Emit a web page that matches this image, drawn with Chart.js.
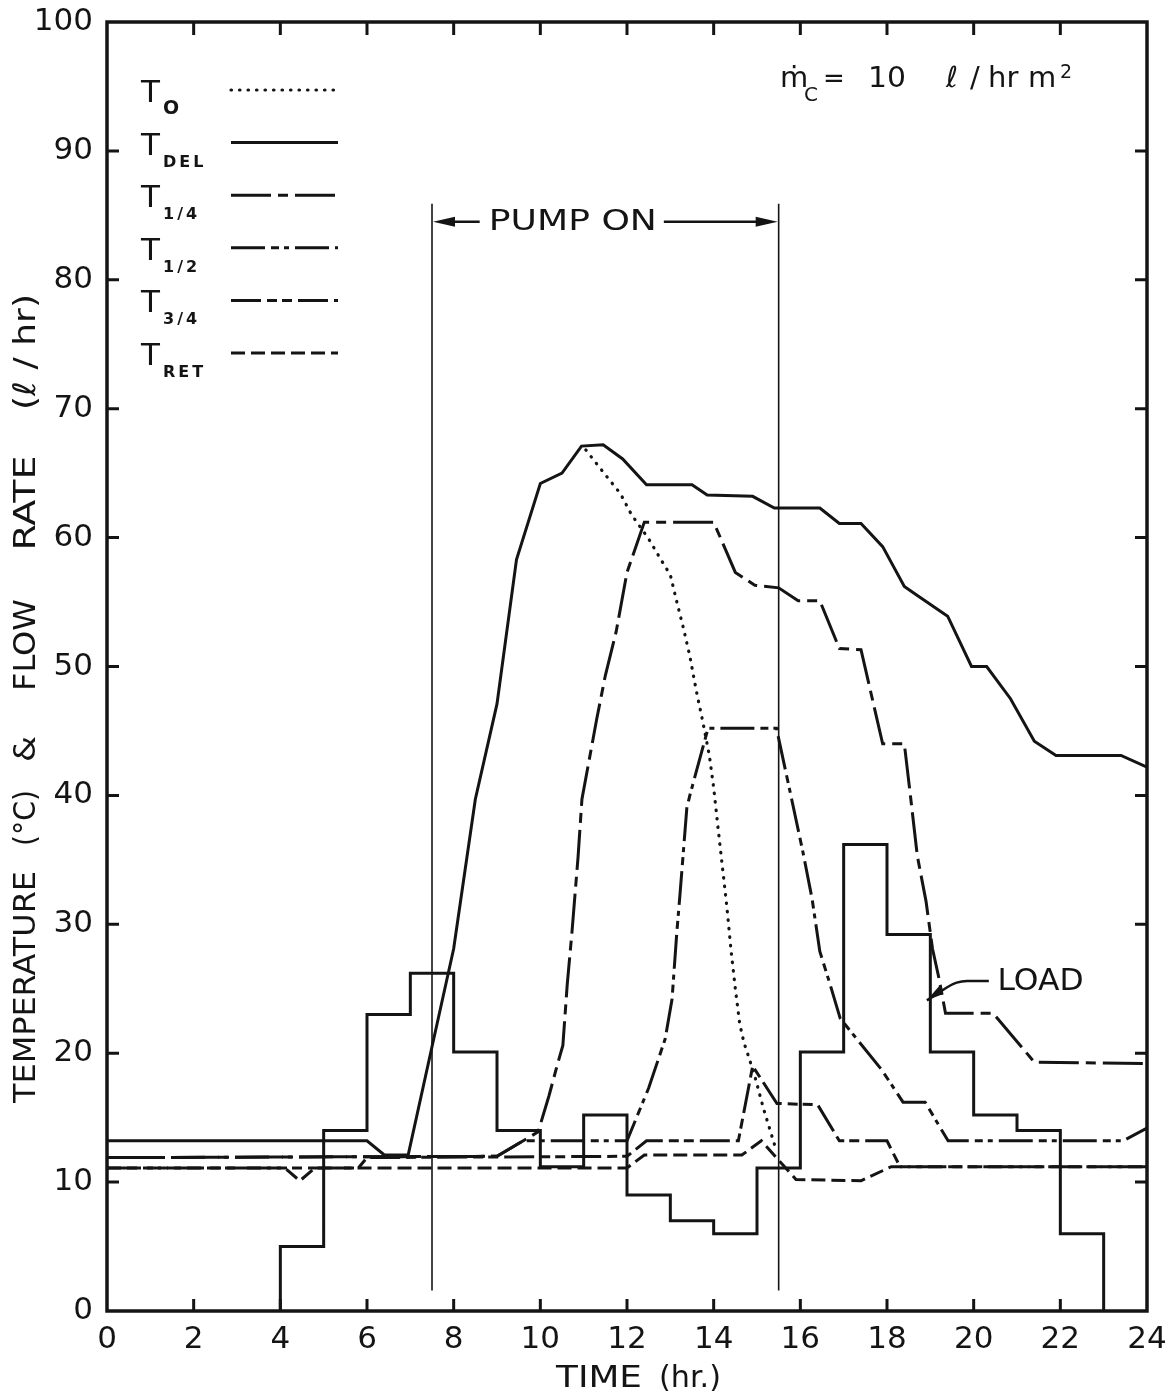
<!DOCTYPE html>
<html>
<head>
<meta charset="utf-8">
<script src="https://cdn.jsdelivr.net/npm/chart.js@4.4.1/dist/chart.umd.min.js"></script>
<style>
  html, body { margin: 0; padding: 0; background: #fff; }
  #wrap { width: 1167px; height: 1398px; }
</style>
</head>
<body>
<div id="wrap"><canvas id="chart" width="1167" height="1398"></canvas></div>
<script>
// ------------------------------------------------------------------
// Data (hours, degC or l/hr)
// ------------------------------------------------------------------

const loadHours  = [4, 4, 5, 6, 7, 8, 9, 10, 11, 12, 13, 14, 15, 16, 17, 18, 19, 20, 21, 22, 23];
const loadValues = [0, 5, 14, 23, 26.2, 20.1, 14.0, 11.2, 15.2, 9.0, 7.0, 6.0, 11.1, 20.1, 36.2, 29.2, 20.1, 15.2, 14.0, 6.0, 0];

const tOHours  = [11.05, 11.4, 11.85, 12.1, 12.5, 12.8, 13.0, 13.15, 13.3, 13.45, 13.6, 13.75, 13.9, 14.0, 14.1, 14.2, 14.3, 14.4, 14.5, 14.6, 14.7, 14.8, 14.95, 15.15, 15.35, 15.45];
const tOValues = [66.8, 65.3, 63.4, 61.8, 59.9, 58.2, 57.1, 55.0, 53.0, 50.8, 48.1, 45.7, 43.1, 40.6, 37.5, 34.5, 31.5, 28.0, 25.0, 22.3, 20.8, 19.8, 18.2, 15.7, 13.5, 12.4];

const tDelHours  = [0, 6, 6.4, 6.95, 7.5, 8, 8.5, 9, 9.45, 10, 10.5, 10.95, 11.45, 11.9, 12.45, 13.5, 13.85, 14.9, 15.4, 16.45, 16.9, 17.4, 17.9, 18.4, 18.7, 19.4, 19.95, 20.3, 20.85, 21.4, 21.9, 23.4, 24];
const tDelValues = [13.2, 13.2, 12.1, 12.1, 20.5, 28.1, 39.7, 47.1, 58.3, 64.2, 65.0, 67.1, 67.2, 66.1, 64.1, 64.1, 63.3, 63.2, 62.3, 62.3, 61.1, 61.1, 59.3, 56.2, 55.5, 53.9, 50.0, 50.0, 47.5, 44.2, 43.1, 43.1, 42.2];

const tQuarterHours  = [0, 9, 9.95, 10.2, 10.4, 10.52, 10.62, 10.73, 10.87, 10.96, 11.3, 11.5, 11.75, 12.0, 12.4, 14.0, 14.5, 14.95, 15.5, 15.95, 16.45, 16.9, 17.4, 17.9, 18.4, 18.55, 18.7, 18.9, 19.05, 19.2, 19.35, 20.45, 21.4, 24];
const tQuarterValues = [11.9, 12.0, 13.9, 16.7, 19.2, 20.6, 25.3, 29.4, 35.2, 39.7, 45.9, 49.3, 52.7, 57.3, 61.2, 61.2, 57.3, 56.3, 56.1, 55.1, 55.1, 51.4, 51.3, 44.0, 44.0, 39.7, 35.3, 31.8, 28.1, 25.8, 23.1, 23.1, 19.3, 19.2];

const tHalfHours  = [0, 9, 9.6, 12.0, 12.5, 12.88, 13.04, 13.15, 13.22, 13.38, 13.45, 13.87, 15.45, 15.8, 16.06, 16.27, 16.45, 16.69, 16.92, 17.88, 18.37, 18.88, 19.41, 23.45, 24];
const tHalfValues = [11.9, 12.0, 13.2, 13.2, 17.3, 21.1, 24.2, 29.4, 32.2, 39.0, 40.0, 45.2, 45.2, 39.7, 35.6, 32.0, 27.9, 25.3, 22.7, 18.7, 16.2, 16.2, 13.2, 13.2, 14.2];

const tThreeQHours  = [0, 5.8, 6.0, 12.0, 12.45, 14.57, 14.9, 15.46, 16.4, 16.9, 18.0, 18.3, 24];
const tThreeQValues = [11.1, 11.1, 11.9, 12.0, 13.2, 13.2, 19.0, 16.1, 16.0, 13.2, 13.2, 11.2, 11.2];

const tRetHours  = [0, 4.1, 4.45, 4.8, 12.0, 12.4, 14.65, 15.1, 15.9, 17.4, 18.1, 24];
const tRetValues = [11.1, 11.1, 10.1, 11.1, 11.1, 12.1, 12.1, 13.2, 10.2, 10.1, 11.2, 11.2];

const pumpOnTimes = [7.5, 15.5];
const pumpLineSpan = [1.6, 85.9];

const xTicks = { min: 0, max: 24, step: 2 };
const yTicks = { min: 0, max: 100, step: 10 };

const legendSubs = ['O', 'DEL', '1/4', '1/2', '3/4', 'RET'];

// ------------------------------------------------------------------
// Styling
// ------------------------------------------------------------------

const INK  = '#141414';
const FONT = '"DejaVu Sans", "Liberation Sans", sans-serif';

const toPoints = (xs, ys) => xs.map((x, i) => ({ x, y: ys[i] }));

const curve = (xs, ys, dash, extra) => Object.assign({
  data: toPoints(xs, ys),
  borderColor: INK,
  borderWidth: 3,
  borderDash: dash,
  pointRadius: 0,
  fill: false,
}, extra || {});

const tempSets = [
  curve(tOHours, tOValues, [0.5, 8], { borderCapStyle: 'round', borderWidth: 3.2 }),
  curve(tDelHours, tDelValues, []),
  curve(tQuarterHours, tQuarterValues, [40, 7, 10, 7]),
  curve(tHalfHours, tHalfValues, [34, 6, 8, 5, 5, 6]),
  curve(tThreeQHours, tThreeQValues, [30, 6, 10, 5, 10, 6]),
  curve(tRetHours, tRetValues, [14, 6]),
];

const pumpSets = pumpOnTimes.map(t => ({
  data: pumpLineSpan.map(v => ({ x: t, y: v })),
  borderColor: INK,
  borderWidth: 1.6,
  pointRadius: 0,
}));

const loadSet = curve(loadHours, loadValues, [], { stepped: 'before', borderWidth: 3 });

// draw text squeezed / stretched to a given width
function fitText(ctx, text, x, y, width) {
  const w = ctx.measureText(text).width;
  ctx.save();
  ctx.translate(x, y);
  ctx.scale(width / w, 1);
  ctx.fillText(text, 0, 0);
  ctx.restore();
}

function arrowHead(ctx, tipX, tipY, dir) {
  ctx.beginPath();
  ctx.moveTo(tipX, tipY);
  ctx.lineTo(tipX - dir * 22, tipY - 5);
  ctx.lineTo(tipX - dir * 22, tipY + 5);
  ctx.closePath();
  ctx.fill();
}

// ------------------------------------------------------------------
// Plugins: page background, frame with inner ticks, labels
// ------------------------------------------------------------------

const paper = {
  id: 'paper',
  beforeDraw(chart) {
    const { ctx, width, height } = chart;
    ctx.save();
    ctx.fillStyle = '#fff';
    ctx.fillRect(0, 0, width, height);
    ctx.restore();
  },
};

const frameTicks = {
  id: 'frameTicks',
  afterDraw(chart) {
    const { ctx, chartArea: a, scales: { x, y } } = chart;
    ctx.save();
    ctx.strokeStyle = INK;
    ctx.setLineDash([]);
    ctx.lineWidth = 3.5;
    ctx.strokeRect(a.left, a.top, a.right - a.left, a.bottom - a.top);
    ctx.lineWidth = 3;
    ctx.beginPath();
    x.ticks.forEach(t => {
      if (t.value <= x.min || t.value >= x.max) return;
      const px = x.getPixelForValue(t.value);
      ctx.moveTo(px, a.bottom); ctx.lineTo(px, a.bottom - 12);
      ctx.moveTo(px, a.top);    ctx.lineTo(px, a.top + 13);
    });
    y.ticks.forEach(t => {
      if (t.value <= y.min || t.value >= y.max) return;
      const py = y.getPixelForValue(t.value);
      ctx.moveTo(a.left, py);  ctx.lineTo(a.left + 12, py);
      ctx.moveTo(a.right, py); ctx.lineTo(a.right - 12, py);
    });
    ctx.stroke();
    ctx.restore();
  },
};

const labels = {
  id: 'labels',
  afterDraw(chart) {
    const { ctx, scales: { x, y } } = chart;
    const X = v => x.getPixelForValue(v);
    const Y = v => y.getPixelForValue(v);
    ctx.save();
    ctx.fillStyle = INK;
    ctx.strokeStyle = INK;
    ctx.setLineDash([]);

    // legend
    chart.data.datasets.slice(3).forEach((ds, i) => {
      const ly = 90 + i * 52.6;
      ctx.textAlign = 'left';
      ctx.textBaseline = 'alphabetic';
      ctx.font = `31px ${FONT}`;
      ctx.fillText('T', 141, ly + 12);
      ctx.font = `bold ${i === 0 ? 19 : 16}px ${FONT}`;
      ctx.letterSpacing = '3px';
      ctx.fillText(legendSubs[i], 163, ly + 24);
      ctx.letterSpacing = '0px';
      ctx.lineWidth = ds.borderWidth;
      ctx.lineCap = ds.borderCapStyle || 'butt';
      ctx.setLineDash(ds.borderDash);
      ctx.beginPath();
      ctx.moveTo(231, ly);
      ctx.lineTo(338, ly);
      ctx.stroke();
      ctx.setLineDash([]);
      ctx.lineCap = 'butt';
    });

    // flow rate note, top right
    ctx.textAlign = 'left';
    ctx.textBaseline = 'alphabetic';
    ctx.font = `29px ${FONT}`;
    ctx.fillText('ṁ', 780, 87);
    ctx.font = `20px ${FONT}`;
    ctx.fillText('C', 804, 101);
    ctx.font = `26px ${FONT}`;
    ctx.fillText('=', 823, 87);
    ctx.font = `29px ${FONT}`;
    fitText(ctx, '10', 868, 87, 38);
    ctx.fillText('ℓ', 946, 87);
    ctx.fillText('/', 970, 87);
    ctx.fillText('hr', 988, 87);
    ctx.fillText('m', 1028, 87);
    ctx.font = `19px ${FONT}`;
    ctx.fillText('2', 1060, 78);

    // pump on span
    const pl = X(pumpOnTimes[0]), pr = X(pumpOnTimes[1]), py = Y(84.5);
    ctx.textAlign = 'center';
    ctx.textBaseline = 'middle';
    ctx.font = `29px ${FONT}`;
    fitText(ctx, 'PUMP ON', X(10.75), py + 1, 168);
    ctx.lineWidth = 2.5;
    ctx.beginPath();
    ctx.moveTo(pl + 10, py); ctx.lineTo(X(8.6), py);
    ctx.moveTo(X(12.85), py); ctx.lineTo(pr - 10, py);
    ctx.stroke();
    arrowHead(ctx, pl + 1, py, -1);
    arrowHead(ctx, pr - 1, py, 1);

    // LOAD leader
    ctx.lineWidth = 2.5;
    ctx.beginPath();
    ctx.moveTo(X(18.92), Y(24.1));
    ctx.lineTo(X(19.38), Y(25.1));
    ctx.quadraticCurveTo(X(19.6), Y(25.6), X(19.85), Y(25.6));
    ctx.lineTo(X(20.35), Y(25.6));
    ctx.stroke();
    ctx.beginPath();
    ctx.moveTo(X(18.92), Y(24.1));
    ctx.lineTo(X(19.3), Y(24.6));
    ctx.lineTo(X(19.2), Y(25.2));
    ctx.closePath();
    ctx.fill();
    ctx.textAlign = 'center';
    ctx.font = `31px ${FONT}`;
    fitText(ctx, 'LOAD', X(20.55) + 43, Y(25.6) + 1, 86);

    // axis titles
    ctx.textAlign = 'center';
    ctx.textBaseline = 'middle';
    ctx.font = `31px ${FONT}`;
    fitText(ctx, 'TIME', 599, 1379, 86);
    fitText(ctx, '(hr.)', 690, 1379, 62);

    const yParts = [
      ['TEMPERATURE', 987, 232],
      ['(°C)', 818, 56],
      ['&', 749, 26],
      ['FLOW', 645, 92],
      ['RATE', 503, 95],
      ['(ℓ / hr)', 352, 116],
    ];
    yParts.forEach(([text, cy, w]) => {
      ctx.save();
      ctx.translate(27, cy);
      ctx.rotate(-Math.PI / 2);
      fitText(ctx, text, 0, 0, w);
      ctx.restore();
    });
    ctx.restore();
  },
};

// ------------------------------------------------------------------
// Chart
// ------------------------------------------------------------------

new Chart(document.getElementById('chart'), {
  type: 'line',
  data: {
    datasets: [loadSet, ...pumpSets, ...tempSets],
  },
  options: {
    responsive: false,
    animation: false,
    devicePixelRatio: 1,
    layout: { padding: { top: 22, right: 20, bottom: 0, left: 0 } },
    plugins: {
      legend: { display: false },
      tooltip: { enabled: false },
    },
    scales: {
      x: {
        type: 'linear',
        min: xTicks.min,
        max: xTicks.max,
        grid: { display: false, drawTicks: false },
        border: { display: false },
        ticks: {
          stepSize: xTicks.step,
          autoSkip: false,
          maxRotation: 0,
          padding: 10,
          color: INK,
          font: { family: FONT, size: 31 },
        },
        afterFit: s => {
          s.height = 87;
          s.paddingLeft = 0;
          s.paddingRight = 0;
        },
      },
      y: {
        type: 'linear',
        min: yTicks.min,
        max: yTicks.max,
        grid: { display: false, drawTicks: false },
        border: { display: false },
        ticks: {
          stepSize: yTicks.step,
          padding: 14,
          color: INK,
          font: { family: FONT, size: 31 },
        },
        afterFit: s => {
          s.width = 107;
          s.paddingTop = 0;
          s.paddingBottom = 0;
        },
      },
    },
  },
  plugins: [paper, frameTicks, labels],
});
</script>
</body>
</html>
